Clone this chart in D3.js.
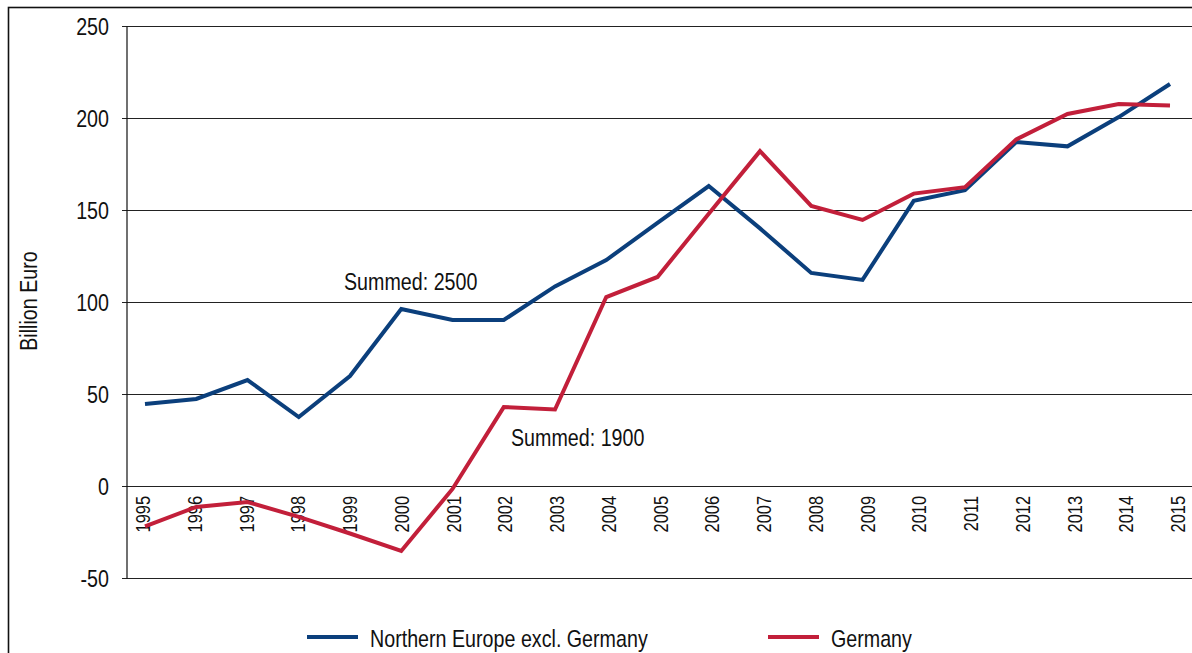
<!DOCTYPE html>
<html>
<head>
<meta charset="utf-8">
<script src="https://cdn.jsdelivr.net/npm/d3@7"></script>
<style>
  body { margin: 0; background: #fff; }
  svg text { font-family: "Liberation Sans", Arial, sans-serif; fill: #111; }
</style>
</head>
<body>
<div id="chart"></div>
<script>
(function() {
    const width = 1192,
          height = 653;

    const years = [1995, 1996, 1997, 1998, 1999, 2000, 2001, 2002, 2003, 2004, 2005,
                   2006, 2007, 2008, 2009, 2010, 2011, 2012, 2013, 2014, 2015];
    const northern = [44.6, 47.3, 57.6, 37.5, 59.8, 96.2, 90.2, 90.2, 108.5, 122.8, 143,
                      163, 140, 115.8, 112, 155, 160.8, 187, 184.6, 200.5, 218.5];
    const germany = [-22, -11.4, -8.7, -16.8, -25.8, -35.3, -1.6, 42.9, 41.6, 102.7, 113.6,
                     148, 182, 152.2, 144.6, 158.9, 162.4, 188.4, 202.2, 207.6, 206.8];
    const yTicks = [-50, 0, 50, 100, 150, 200, 250];
    const seriesNames = ['Northern Europe excl. Germany', 'Germany'];
    const colors = ['#0b3f7c', '#c21f3a'];

    // narrow look: Liberation Sans squeezed sideways
    const narrow = 'scale(0.82,1)';

    const xScale = d3.scaleLinear()
                    .domain([1995, 2015])
                    .range([145, 1170]);

    // category labels sit on a slightly wider spacing than the points
    const xLabelScale = d3.scaleLinear()
                    .domain([1995, 2015])
                    .range([142.5, 1177.5]);

    const yScale = d3.scaleLinear()
                    .domain([-50, 250])
                    .range([578, 26]);

    const svg = d3.select('#chart')
        .append('svg')
        .attr('width', width)
        .attr('height', height);

    // outer frame, runs off the page right and bottom
    svg.append('rect')
        .attr('x', 8.5).attr('y', 7.5)
        .attr('width', 1300).attr('height', 800)
        .attr('fill', 'none')
        .attr('stroke', '#111')
        .attr('stroke-width', 1.6);

    // grid lines
    svg.selectAll('.grid')
        .data(yTicks)
        .enter().append('line')
        .attr('class', 'grid')
        .attr('x1', 122).attr('x2', width)
        .attr('y1', d => Math.round(yScale(d)) + 0.5)
        .attr('y2', d => Math.round(yScale(d)) + 0.5)
        .attr('stroke', '#222')
        .attr('stroke-width', 1.2);

    const yAxis = d3.axisLeft(yScale)
        .tickValues(yTicks)
        .tickFormat(d => String(d))
        .tickSize(0);

    svg.append('g')
        .attr('transform', 'translate(126.5, 0)')
        .call(yAxis)
        .call(g => g.select('.domain').attr('stroke', '#111').attr('stroke-width', 1.2))
        .selectAll('text')
        .style('font-size', '24px')
        .attr('x', 0)
        .attr('dy', '0.35em')
        .attr('transform', 'translate(-17.5, 0) ' + narrow);

    const xAxis = d3.axisBottom(xLabelScale)
        .tickValues(years)
        .tickFormat(d3.format('d'))
        .tickSize(0);

    svg.append('g')
        .attr('transform', `translate(0, ${yScale(0)})`)
        .call(xAxis)
        .call(g => g.select('.domain').remove())
        .selectAll('text')
        .style('font-size', '20px')
        .attr('text-anchor', 'end')
        .attr('transform', 'translate(0, 10) rotate(-90) ' + narrow)
        .attr('x', 0)
        .attr('y', 0)
        .attr('dy', '0.35em');

    const line = d3.line()
        .x((d, i) => xScale(years[i]))
        .y(d => yScale(d));

    [northern, germany].forEach((values, k) => {
        svg.append('path')
            .datum(values)
            .attr('d', line)
            .attr('fill', 'none')
            .attr('stroke', colors[k])
            .attr('stroke-width', 4)
            .attr('stroke-linejoin', 'miter');
    });

    function label(x, y, str, rotate, anchor) {
        svg.append('text')
            .attr('transform', `translate(${x}, ${y}) rotate(${rotate || 0}) ${narrow}`)
            .attr('text-anchor', anchor || 'start')
            .style('font-size', '24px')
            .text(str);
    }

    // annotations
    label(344, 290, 'Summed: 2500');
    label(511, 446, 'Summed: 1900');
    label(37, 301, 'Billion Euro', -90, 'middle');

    // legend
    const legendX = [307, 768];
    seriesNames.forEach((name, k) => {
        svg.append('line')
            .attr('x1', legendX[k]).attr('x2', legendX[k] + 51)
            .attr('y1', 637).attr('y2', 637)
            .attr('stroke', colors[k])
            .attr('stroke-width', 4);
        label(legendX[k] + 63, 647, name);
    });
})();
</script>
</body>
</html>
